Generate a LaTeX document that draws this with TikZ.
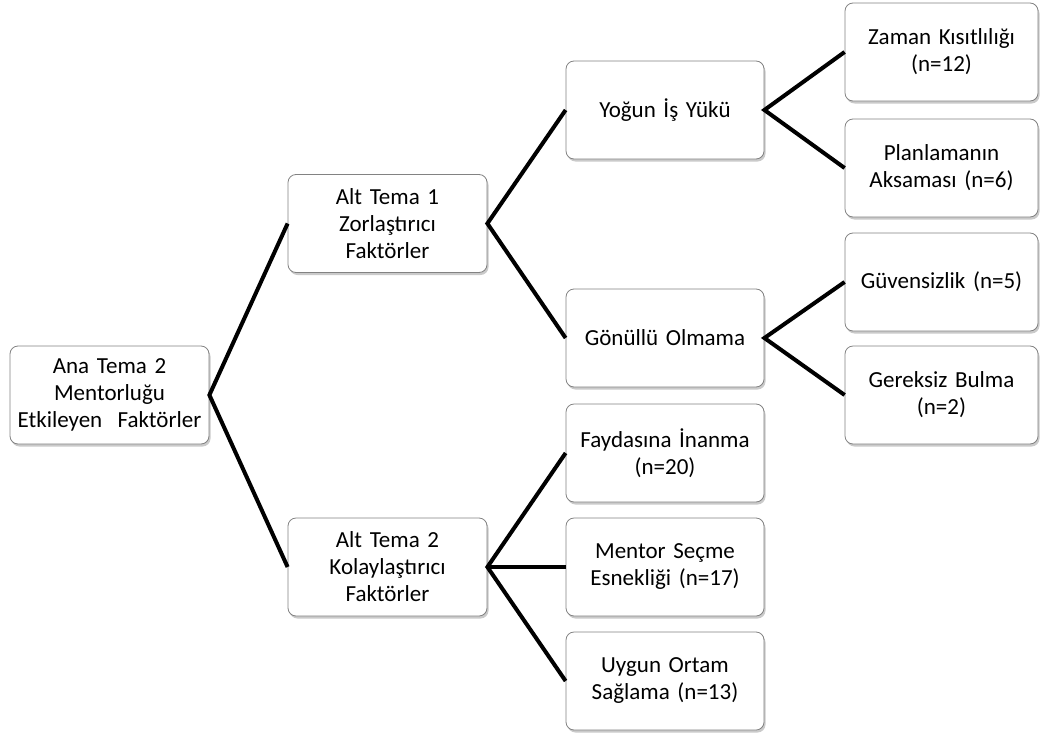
\documentclass[tikz,border=0pt]{standalone}
\usepackage{fontspec}
\setmainfont{Carlito}
\usetikzlibrary{shadows}
\definecolor{boxborder}{RGB}{130,130,130}
\tikzset{
  box/.style={draw=boxborder, line width=0.8pt, fill=white, rounded corners=8pt,
    minimum height=98pt, align=center, inner sep=1pt,
    font=\fontsize{23}{27}\selectfont,
    drop shadow={opacity=0.35, shadow xshift=1.5pt, shadow yshift=-2.5pt, fill=black!60}},
  wA/.style={box, minimum width=199pt, text width=196pt},
  wD/.style={box, minimum width=193pt, text width=190pt},
  link/.style={line width=4pt, line cap=butt, line join=miter}
}
\begin{document}
\begin{tikzpicture}[x=1pt,y=-1pt]
\useasboundingbox (0,0) rectangle (1041,736);
\node[wA] (ana) at (109.5,395) {Ana Tema 2\\Mentorluğu\\Etkileyen\ \ Faktörler};
\node[wA] (alt1) at (387.5,223.5) {Alt Tema 1\\Zorlaştırıcı\\Faktörler};
\node[wA] (alt2) at (387.5,567) {Alt Tema 2\\Kolaylaştırıcı\\Faktörler};
\node[wA, minimum width=198pt] (yogun) at (665,110) {Yoğun İş Yükü};
\node[wA, minimum width=198pt] (gonullu) at (665,338) {Gönüllü Olmama};
\node[wA, minimum width=198pt] (fayda) at (665,453) {Faydasına İnanma\\(n=20)};
\node[wA, minimum width=198pt] (mentor) at (665,567) {Mentor Seçme\\Esnekliği (n=17)};
\node[wA, minimum width=198pt] (uygun) at (665,681) {Uygun Ortam\\Sağlama (n=13)};
\node[wD] (zaman) at (941.5,52) {Zaman Kısıtlılığı\\(n=12)};
\node[wD] (plan) at (941.5,168) {Planlamanın\\Aksaması (n=6)};
\node[wD] (guven) at (941.5,282) {Güvensizlik (n=5)};
\node[wD] (gereksiz) at (941.5,395) {Gereksiz Bulma\\(n=2)};
\draw[link] (alt1.west) -- (ana.east) -- (alt2.west);
\draw[link] (yogun.west) -- (alt1.east) -- (gonullu.west);
\draw[link] (fayda.west) -- (alt2.east) -- (uygun.west);
\draw[link] (alt2.east) -- (mentor.west);
\draw[link] (zaman.west) -- (yogun.east) -- (plan.west);
\draw[link] (guven.west) -- (gonullu.east) -- (gereksiz.west);
\end{tikzpicture}
\end{document}
